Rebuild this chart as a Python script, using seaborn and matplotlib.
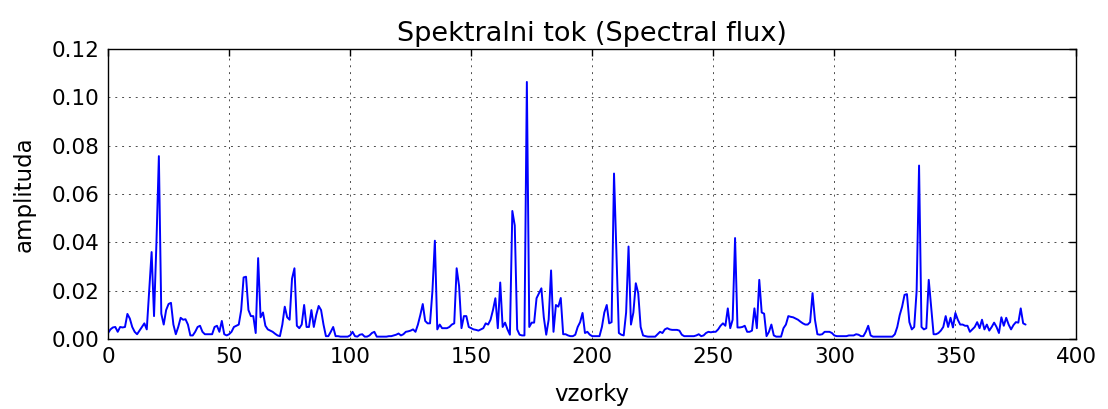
import numpy as np
import pandas as pd
import matplotlib
matplotlib.use("Agg")
import matplotlib.pyplot as plt
import seaborn as sns

# spektralni tok po vzorkih (odčitano s slike)
flux = [
    0.0025, 0.004, 0.0048, 0.005, 0.003, 0.005, 0.0048, 0.005, 0.0104, 0.0085,
    0.005, 0.003, 0.002, 0.0035, 0.005, 0.0065, 0.004, 0.02, 0.036, 0.0095,
    0.04, 0.0757, 0.0105, 0.006, 0.012, 0.0145, 0.015, 0.006, 0.002, 0.005,
    0.0088, 0.008, 0.0082, 0.006, 0.0015, 0.0015, 0.003, 0.005, 0.0055, 0.003,
    0.002, 0.002, 0.002, 0.002, 0.005, 0.0055, 0.003, 0.0075, 0.002, 0.0015,
    0.002, 0.003, 0.005, 0.0055, 0.006, 0.012, 0.0255, 0.0258, 0.012, 0.0095,
    0.0095, 0.0025, 0.0335, 0.009, 0.011, 0.0055, 0.004, 0.0035, 0.003, 0.0022,
    0.0015, 0.0012, 0.006, 0.0134, 0.009, 0.008, 0.025, 0.0293, 0.0055, 0.0045,
    0.006, 0.0141, 0.005, 0.005, 0.012, 0.005, 0.01, 0.0137, 0.012, 0.006,
    0.0012, 0.0012, 0.003, 0.005, 0.0012, 0.0012, 0.001, 0.001, 0.001, 0.001,
    0.0015, 0.003, 0.0012, 0.001, 0.0018, 0.002, 0.001, 0.001, 0.0015, 0.0025,
    0.003, 0.001, 0.001, 0.001, 0.001, 0.001, 0.0012, 0.0012, 0.0015, 0.0018,
    0.0023, 0.0015, 0.002, 0.003, 0.0032, 0.0035, 0.004, 0.003, 0.006, 0.01,
    0.0145, 0.0075, 0.0065, 0.0065, 0.02, 0.0407, 0.004, 0.006, 0.0045, 0.0045,
    0.0045, 0.005, 0.006, 0.0065, 0.0293, 0.022, 0.0045, 0.0095, 0.0095, 0.005,
    0.0045, 0.004, 0.0038, 0.0035, 0.004, 0.0045, 0.0065, 0.006, 0.008, 0.012,
    0.0169, 0.0045, 0.0234, 0.005, 0.0068, 0.004, 0.0018, 0.053, 0.047, 0.004,
    0.0018, 0.0015, 0.0015, 0.1064, 0.005, 0.0068, 0.0068, 0.0169, 0.019, 0.021,
    0.009, 0.0018, 0.008, 0.0284, 0.003, 0.0141, 0.0134, 0.017, 0.002, 0.002,
    0.0015, 0.0012, 0.0012, 0.0018, 0.005, 0.007, 0.0108, 0.0025, 0.003, 0.0018,
    0.0012, 0.0012, 0.0012, 0.0012, 0.005, 0.011, 0.0141, 0.0065, 0.007, 0.0685,
    0.035, 0.0025, 0.0018, 0.0015, 0.011, 0.0383, 0.006, 0.011, 0.0231, 0.019,
    0.005, 0.0015, 0.0012, 0.001, 0.001, 0.001, 0.001, 0.002, 0.003, 0.0025,
    0.004, 0.0045, 0.004, 0.0038, 0.0038, 0.0038, 0.0035, 0.0018, 0.0012, 0.0012,
    0.0012, 0.0012, 0.0012, 0.0015, 0.002, 0.0012, 0.0015, 0.0025, 0.003, 0.0028,
    0.003, 0.003, 0.004, 0.0055, 0.0065, 0.0055, 0.0127, 0.0045, 0.008, 0.0418,
    0.0048, 0.0048, 0.005, 0.0055, 0.003, 0.003, 0.0035, 0.0127, 0.0045, 0.0245,
    0.011, 0.0105, 0.0012, 0.003, 0.006, 0.0015, 0.001, 0.001, 0.001, 0.0045,
    0.006, 0.0095, 0.0092, 0.009, 0.0085, 0.008, 0.0072, 0.0065, 0.006, 0.006,
    0.007, 0.019, 0.008, 0.002, 0.0018, 0.002, 0.003, 0.003, 0.003, 0.0025,
    0.0015, 0.0012, 0.0012, 0.0012, 0.0012, 0.0012, 0.0015, 0.0015, 0.0015, 0.002,
    0.0018, 0.0012, 0.0012, 0.003, 0.0055, 0.0015, 0.001, 0.001, 0.001, 0.001,
    0.001, 0.001, 0.001, 0.001, 0.001, 0.002, 0.005, 0.0099, 0.0134, 0.0183,
    0.0186, 0.007, 0.004, 0.005, 0.02, 0.0718, 0.005, 0.004, 0.0045, 0.0245,
    0.013, 0.002, 0.002, 0.0025, 0.0035, 0.005, 0.0095, 0.005, 0.0088, 0.0048,
    0.0108, 0.008, 0.006, 0.006, 0.0055, 0.0055, 0.003, 0.004, 0.005, 0.007,
    0.0045, 0.008, 0.004, 0.006, 0.0035, 0.005, 0.0068, 0.005, 0.0025, 0.009,
    0.0055, 0.0088, 0.006, 0.004, 0.0058, 0.007, 0.0068, 0.0127, 0.0065, 0.006,
]
samples = np.arange(len(flux))

x_ticks = [0, 50, 100, 150, 200, 250, 300, 350, 400]
y_ticks = [0.00, 0.02, 0.04, 0.06, 0.08, 0.10, 0.12]

sns.set_theme(style="white")
plt.rcParams['font.family'] = ['DejaVu Sans']
plt.rcParams['text.color'] = 'black'
plt.rcParams['axes.labelcolor'] = 'black'
plt.rcParams['xtick.color'] = 'black'
plt.rcParams['ytick.color'] = 'black'

df = pd.DataFrame({"vzorky": samples, "amplituda": flux})

fig = plt.figure(figsize=(11.08, 4.09), dpi=100)
ax = fig.add_axes([0.0975, 0.171, 0.874, 0.709])

sns.lineplot(data=df, x="vzorky", y="amplituda", color="#0000ff", linewidth=1.4, ax=ax)

ax.set_xlim(0, 400)
ax.set_ylim(0, 0.12)
ax.set_xticks(x_ticks)
ax.set_yticks(y_ticks)
ax.set_yticklabels(["{:.2f}".format(v) for v in y_ticks])
ax.tick_params(axis='both', which='both', direction='in', top=True, right=True,
               length=5, width=1, color='black', labelcolor='black',
               labelsize=15.5, pad=6)
ax.grid(True, linestyle=(0, (2, 5)), color='black', linewidth=0.7, alpha=0.7)
for sp in ax.spines.values():
    sp.set_color('black')
    sp.set_linewidth(1.0)

ax.set_title("Spektralni tok (Spectral flux)", fontsize=19.5, pad=6, color='black')
ax.set_xlabel("vzorky", fontsize=16.5, labelpad=11)
ax.set_ylabel("amplituda", fontsize=16.5, labelpad=12)

fig.savefig("out.png", dpi=100)
